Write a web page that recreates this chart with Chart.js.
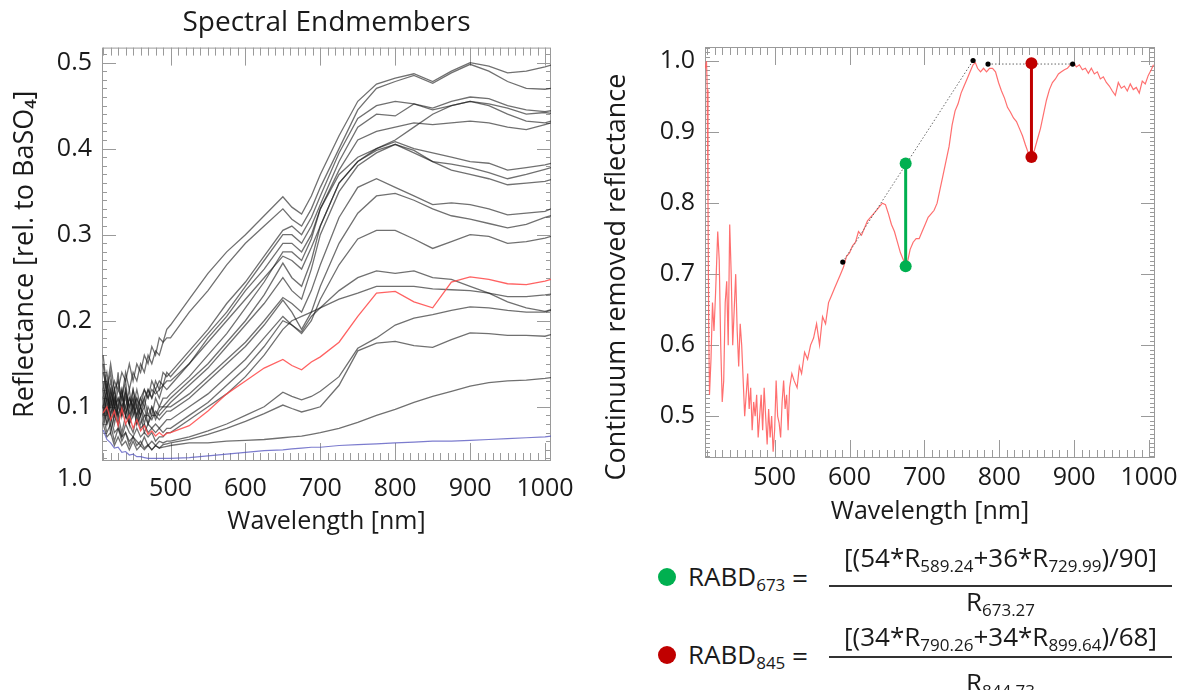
<!DOCTYPE html>
<html>
<head>
<meta charset="utf-8">
<script src="https://cdn.jsdelivr.net/npm/chart.js@4.4.0/dist/chart.umd.min.js"></script>
<style>
  body { margin: 0; background: #fff; }
  #wrap { position: relative; width: 1179px; height: 690px; overflow: hidden;
          font-family: 'Open Sans', sans-serif; color: #1a1a1a; }
  canvas { position: absolute; top: 0; }
  #leftChart { left: 0; }
  #rightChart { left: 590px; }
  .t { position: absolute; font-size: 26px; line-height: 1; white-space: nowrap; }
  .t sub { font-size: 17px; line-height: 0; vertical-align: -0.3em; }
  .c { text-align: center; }
  .dot { position: absolute; width: 18px; height: 18px; border-radius: 50%; }
  .bar { position: absolute; height: 2px; background: #333; }
</style>
</head>
<body>
<div id="wrap">
  <canvas id="leftChart" width="590" height="540"></canvas>
  <canvas id="rightChart" width="589" height="540"></canvas>

  <!-- stray label under the left y axis -->
  <div class="t" style="left:42px; top:464px; width:50px; text-align:right; font-size:25px;">1.0</div>

  <!-- RABD formulas -->
  <div class="dot" style="left:658px; top:568px; background:#00b050;"></div>
  <div class="t" style="left:688px; top:563px;">RABD<sub>673</sub></div>
  <div class="t" style="left:792px; top:563px; font-size:28px;">=</div>
  <div class="t c" style="left:829px; top:544px; width:343px;">[(54*R<sub>589.24</sub>+36*R<sub>729.99</sub>)/90]</div>
  <div class="bar" style="left:829px; top:585px; width:343px;"></div>
  <div class="t c" style="left:829px; top:588px; width:343px;">R<sub>673.27</sub></div>

  <div class="dot" style="left:658px; top:646px; background:#c00000;"></div>
  <div class="t" style="left:688px; top:641px;">RABD<sub>845</sub></div>
  <div class="t" style="left:792px; top:641px; font-size:28px;">=</div>
  <div class="t c" style="left:829px; top:623px; width:343px;">[(34*R<sub>790.26</sub>+34*R<sub>899.64</sub>)/68]</div>
  <div class="bar" style="left:829px; top:656px; width:343px;"></div>
  <div class="t c" style="left:829px; top:669px; width:343px;">R<sub>844.73</sub></div>
</div>

<script>
// ---- tick labels ----
const X_TICKS = [500, 600, 700, 800, 900, 1000];
const LEFT_Y_TICKS = [0.1, 0.2, 0.3, 0.4, 0.5];
const RIGHT_Y_TICKS = [0.5, 0.6, 0.7, 0.8, 0.9, 1.0];

// ---- Spectral endmembers (left panel) ----
const WL_L = [410,415,420,425,430,435,440,445,450,455,460,465,470,475,480,485,490,495,
              500,525,550,575,600,625,650,662,675,688,700,725,750,775,800,825,850,875,900,925,950,975,1000,1008];

const EM_T1 = [0.12,0.14,0.11,0.13,0.12,0.14,0.13,0.15,0.13,0.15,0.14,0.16,0.15,0.17,0.16,0.18,0.175,0.19,
               0.195,0.225,0.255,0.28,0.30,0.322,0.344,0.332,0.324,0.345,0.37,0.415,0.455,0.475,0.482,0.487,0.478,0.49,0.50,0.496,0.488,0.49,0.495,0.497];
const EM_T2 = [0.14,0.12,0.15,0.12,0.13,0.11,0.14,0.12,0.14,0.13,0.15,0.14,0.16,0.15,0.165,0.16,0.175,0.18,
               0.18,0.21,0.235,0.265,0.29,0.31,0.33,0.318,0.31,0.33,0.355,0.40,0.445,0.47,0.478,0.485,0.476,0.488,0.498,0.49,0.478,0.47,0.469,0.47];
const EM_U1 = [0.10,0.12,0.09,0.11,0.10,0.12,0.09,0.11,0.10,0.12,0.10,0.11,0.12,0.11,0.13,0.12,0.14,0.135,
               0.14,0.165,0.19,0.22,0.245,0.275,0.305,0.31,0.30,0.32,0.345,0.395,0.435,0.45,0.455,0.452,0.447,0.455,0.46,0.458,0.45,0.445,0.443,0.444];
const EM_U2 = [0.11,0.09,0.12,0.10,0.11,0.09,0.115,0.10,0.12,0.10,0.11,0.12,0.11,0.13,0.12,0.13,0.125,0.14,
               0.135,0.16,0.185,0.21,0.24,0.27,0.30,0.30,0.29,0.31,0.335,0.385,0.425,0.44,0.438,0.452,0.445,0.45,0.455,0.452,0.447,0.44,0.442,0.441];
const EM_U3 = [0.09,0.11,0.10,0.12,0.09,0.10,0.11,0.09,0.10,0.11,0.10,0.12,0.11,0.12,0.115,0.12,0.125,0.13,
               0.13,0.15,0.175,0.20,0.225,0.25,0.275,0.27,0.26,0.285,0.31,0.36,0.385,0.40,0.41,0.425,0.44,0.45,0.455,0.45,0.44,0.432,0.43,0.432];
const EM_U4 = [0.10,0.08,0.11,0.09,0.10,0.12,0.09,0.11,0.10,0.09,0.11,0.10,0.12,0.11,0.12,0.11,0.125,0.12,
               0.125,0.15,0.18,0.205,0.235,0.26,0.29,0.29,0.28,0.30,0.33,0.375,0.41,0.42,0.425,0.43,0.428,0.43,0.432,0.43,0.425,0.422,0.428,0.43];
const EM_W1 = [0.13,0.10,0.12,0.09,0.11,0.10,0.12,0.08,0.11,0.09,0.10,0.08,0.10,0.09,0.11,0.10,0.11,0.11,
               0.115,0.135,0.16,0.185,0.215,0.245,0.28,0.28,0.27,0.295,0.33,0.37,0.39,0.40,0.408,0.40,0.395,0.39,0.385,0.383,0.375,0.378,0.381,0.383];
const EM_W2 = [0.15,0.11,0.13,0.10,0.14,0.09,0.12,0.10,0.11,0.08,0.10,0.09,0.08,0.10,0.09,0.10,0.10,0.105,
               0.11,0.13,0.15,0.175,0.20,0.23,0.267,0.25,0.24,0.27,0.31,0.36,0.385,0.398,0.405,0.398,0.385,0.382,0.378,0.372,0.365,0.37,0.376,0.378];
const EM_W3 = [0.16,0.12,0.14,0.10,0.12,0.11,0.13,0.09,0.12,0.10,0.09,0.11,0.09,0.10,0.085,0.095,0.10,0.10,
               0.105,0.125,0.145,0.17,0.195,0.22,0.25,0.235,0.225,0.26,0.30,0.35,0.38,0.395,0.405,0.395,0.385,0.375,0.37,0.365,0.358,0.36,0.362,0.364];
const EM_X1 = [0.12,0.09,0.11,0.08,0.10,0.09,0.10,0.08,0.09,0.10,0.08,0.09,0.09,0.085,0.095,0.09,0.095,0.10,
               0.10,0.115,0.135,0.155,0.175,0.20,0.227,0.22,0.21,0.235,0.265,0.32,0.355,0.365,0.355,0.345,0.335,0.337,0.335,0.33,0.323,0.325,0.327,0.33];
const EM_X2 = [0.11,0.13,0.10,0.12,0.09,0.11,0.10,0.12,0.09,0.11,0.09,0.10,0.08,0.09,0.09,0.085,0.09,0.095,
               0.095,0.11,0.13,0.15,0.17,0.195,0.224,0.21,0.19,0.21,0.24,0.29,0.325,0.345,0.348,0.34,0.33,0.322,0.318,0.313,0.308,0.312,0.32,0.322];
const EM_Y  = [0.10,0.12,0.09,0.11,0.08,0.10,0.09,0.08,0.10,0.08,0.09,0.07,0.08,0.075,0.08,0.075,0.08,0.085,
               0.085,0.10,0.115,0.135,0.155,0.18,0.205,0.195,0.185,0.20,0.225,0.265,0.295,0.305,0.305,0.295,0.284,0.292,0.30,0.298,0.29,0.292,0.296,0.298];
const EM_Z1 = [0.09,0.11,0.08,0.10,0.09,0.07,0.09,0.08,0.07,0.09,0.075,0.08,0.07,0.075,0.07,0.075,0.07,0.075,
               0.075,0.09,0.105,0.125,0.145,0.17,0.20,0.195,0.187,0.205,0.215,0.235,0.25,0.258,0.255,0.258,0.25,0.248,0.24,0.232,0.222,0.215,0.211,0.213];
const EM_Z2 = [0.08,0.10,0.07,0.09,0.08,0.065,0.08,0.07,0.065,0.075,0.065,0.07,0.065,0.07,0.06,0.065,0.065,0.07,
               0.07,0.085,0.10,0.115,0.135,0.16,0.19,0.20,0.205,0.21,0.215,0.225,0.232,0.24,0.24,0.24,0.237,0.236,0.235,0.232,0.228,0.228,0.23,0.231];
const EM_Q1 = [0.09,0.07,0.08,0.06,0.075,0.06,0.07,0.055,0.065,0.06,0.055,0.065,0.055,0.06,0.055,0.06,0.058,0.06,
               0.06,0.065,0.072,0.08,0.09,0.10,0.117,0.112,0.108,0.112,0.118,0.135,0.168,0.18,0.195,0.203,0.207,0.212,0.216,0.215,0.212,0.21,0.21,0.212];
const EM_Q2 = [0.08,0.065,0.07,0.055,0.065,0.055,0.06,0.05,0.06,0.05,0.055,0.05,0.055,0.05,0.055,0.052,0.056,0.057,
               0.058,0.062,0.068,0.075,0.083,0.092,0.102,0.098,0.094,0.097,0.10,0.125,0.165,0.174,0.176,0.171,0.169,0.178,0.186,0.185,0.183,0.183,0.182,0.184];
const EM_LOW = [0.10,0.08,0.09,0.07,0.075,0.065,0.07,0.06,0.065,0.055,0.06,0.052,0.056,0.05,0.055,0.052,0.053,0.054,
                0.055,0.058,0.058,0.06,0.061,0.062,0.064,0.065,0.066,0.068,0.07,0.075,0.082,0.09,0.097,0.105,0.112,0.118,0.124,0.128,0.13,0.131,0.133,0.134];
// highlighted endmember (red) and the dark reference (blue)
const EM_RED = [0.093,0.10,0.085,0.095,0.078,0.098,0.08,0.09,0.075,0.085,0.072,0.078,0.068,0.072,0.066,0.07,0.066,0.069,
                0.07,0.078,0.095,0.115,0.13,0.145,0.155,0.148,0.143,0.152,0.158,0.175,0.205,0.232,0.234,0.222,0.215,0.245,0.251,0.248,0.243,0.242,0.246,0.248];
const EM_BLUE = [0.073,0.062,0.058,0.052,0.053,0.047,0.048,0.044,0.045,0.042,0.042,0.041,0.04,0.04,0.04,0.04,0.04,0.04,
                 0.04,0.041,0.043,0.045,0.047,0.049,0.05,0.051,0.052,0.053,0.053,0.055,0.056,0.057,0.058,0.059,0.06,0.06,0.061,0.062,0.063,0.064,0.065,0.066];

const BLACK_SERIES = [EM_T1, EM_T2, EM_U1, EM_U2, EM_U3, EM_U4, EM_W1, EM_W2, EM_W3,
                      EM_X1, EM_X2, EM_Y, EM_Z1, EM_Z2, EM_Q1, EM_Q2, EM_LOW];

// ---- Continuum removed spectrum (right panel) ----
const WL_R = [407.5,409,410,411,412,413,415,417,419,421,
              424,426,428,430,432,434,436,438,440,442,
              444,446,448,450,452,454,456,458,460,462,
              464,466,468,470,472,474,476,478,480,482,
              484,486,488,490,492,494,496,498,500,502,
              504,506,508,510,512,514,516,518,520,523,
              526,530,533,536,540,544,548,552,556,560,
              564,568,572,576,580,584,588,592,596,600,
              604,608,612,616,620,624,628,632,636,640,
              644,648,652,656,660,664,668,672,675,678,
              681,685,689,693,697,701,705,709,713,717,
              721,725,729,733,737,741,745,749,753,757,
              761,765,768,771,775,779,783,787,791,795,
              799,803,807,811,815,819,823,827,831,835,
              839,843,847,851,855,859,863,867,871,875,
              879,883,887,891,895,899,903,907,911,915,
              919,923,927,931,935,939,943,947,951,955,
              959,963,967,971,975,979,983,987,991,995,
              999,1003,1006];
const CR_R = [0.99,1.0,0.96,0.80,0.62,0.53,0.58,0.66,0.62,0.67,
              0.76,0.72,0.60,0.52,0.55,0.66,0.69,0.60,0.77,0.70,
              0.60,0.65,0.70,0.62,0.57,0.63,0.60,0.55,0.50,0.53,
              0.56,0.51,0.54,0.48,0.52,0.50,0.53,0.47,0.50,0.53,
              0.48,0.54,0.50,0.46,0.51,0.47,0.50,0.45,0.48,0.55,
              0.50,0.49,0.47,0.52,0.55,0.51,0.53,0.48,0.54,0.56,
              0.55,0.54,0.57,0.56,0.59,0.58,0.60,0.61,0.63,0.60,
              0.64,0.63,0.66,0.67,0.68,0.69,0.70,0.71,0.725,0.73,
              0.74,0.745,0.76,0.755,0.765,0.775,0.78,0.785,0.79,0.795,
              0.80,0.798,0.785,0.77,0.76,0.745,0.73,0.72,0.712,0.72,
              0.735,0.745,0.75,0.75,0.76,0.77,0.78,0.785,0.79,0.80,
              0.82,0.84,0.86,0.88,0.91,0.93,0.94,0.955,0.965,0.975,
              0.985,0.995,0.998,0.99,0.985,0.99,0.985,0.99,0.99,0.985,
              0.97,0.958,0.948,0.935,0.928,0.92,0.915,0.905,0.895,0.882,
              0.87,0.865,0.875,0.89,0.905,0.925,0.945,0.96,0.97,0.975,
              0.982,0.985,0.988,0.99,0.995,0.998,0.992,0.995,0.988,0.99,
              0.983,0.99,0.982,0.985,0.975,0.978,0.97,0.965,0.958,0.952,
              0.97,0.962,0.965,0.958,0.968,0.96,0.963,0.955,0.972,0.968,
              0.98,0.988,0.995];

// continuum hull (dotted) and its anchor points
const HULL1_X = [591, 765], HULL1_Y = [0.717, 1.001];
const HULL2_X = [785, 898], HULL2_Y = [0.996, 0.996];
const ANCHOR_X = [591, 765, 785, 898];
const ANCHOR_Y = [0.717, 1.001, 0.996, 0.996];

// band depth bars: RABD673 (green) and RABD845 (red)
const BAND673_X = [675, 675], BAND673_Y = [0.711, 0.856];
const BAND845_X = [843, 843], BAND845_Y = [0.865, 0.997];

const FONT = "'Open Sans', sans-serif";
const INK = '#1a1a1a';
const BOX = '#9a9a9a';

function xy(xs, ys) {
    return xs.map((x, i) => ({ x: x, y: ys[i] }));
}

// IDL style box: frame plus inward ticks on all four sides
const boxTicks = {
    id: 'boxTicks',
    beforeDatasetsDraw(chart, args, o) {
        const { ctx, chartArea: a, scales: { x, y } } = chart;
        ctx.save();
        ctx.strokeStyle = BOX;
        ctx.lineWidth = 1;
        ctx.strokeRect(a.left + 0.5, a.top + 0.5, a.right - a.left - 1, a.bottom - a.top - 1);
        ctx.beginPath();
        for (let i = Math.ceil(x.min / o.xMinor); i * o.xMinor <= x.max; i++) {
            const px = Math.round(x.getPixelForValue(i * o.xMinor)) + 0.5;
            const len = i % o.xEvery === 0 ? 18 : 8;
            ctx.moveTo(px, a.bottom); ctx.lineTo(px, a.bottom - len);
            ctx.moveTo(px, a.top); ctx.lineTo(px, a.top + len);
        }
        for (let i = Math.ceil(y.min / o.yMinor - 1e-6); i * o.yMinor <= y.max + 1e-9; i++) {
            const py = Math.round(y.getPixelForValue(i * o.yMinor)) + 0.5;
            const len = i % o.yEvery === 0 ? 14 : 5;
            ctx.moveTo(a.left, py); ctx.lineTo(a.left + len, py);
            ctx.moveTo(a.right, py); ctx.lineTo(a.right - len, py);
        }
        ctx.stroke();
        ctx.restore();
    }
};

function xAxis(min, max, height, tickPad, titlePad) {
    return {
        type: 'linear', min: min, max: max,
        grid: { display: false, drawTicks: false },
        border: { display: false },
        ticks: { autoSkip: false, padding: tickPad, color: INK, maxRotation: 0,
                 font: { family: FONT, size: 25 },
                 callback: v => String(v) },
        afterBuildTicks(scale) { scale.ticks = X_TICKS.map(v => ({ value: v })); },
        title: { display: true, text: 'Wavelength [nm]', color: INK,
                 font: { family: FONT, size: 25 }, padding: { top: 0, bottom: titlePad } },
        afterFit(scale) { scale.height = height; scale.paddingLeft = 0; scale.paddingRight = 0; }
    };
}

function yAxis(min, max, width, tickList, text, titlePad) {
    return {
        type: 'linear', min: min, max: max,
        grid: { display: false, drawTicks: false },
        border: { display: false },
        ticks: { autoSkip: false, padding: 10, color: INK,
                 font: { family: FONT, size: 25 },
                 callback: v => v.toFixed(1) },
        afterBuildTicks(scale) { scale.ticks = tickList.map(v => ({ value: v })); },
        title: { display: true, text: text, color: INK,
                 font: { family: FONT, size: 27 }, padding: { top: titlePad, bottom: 0 } },
        afterFit(scale) { scale.width = width; scale.paddingTop = 0; scale.paddingBottom = 0; }
    };
}

function lineSet(data, color, width, order) {
    return { data: data, borderColor: color, borderWidth: width, pointRadius: 0,
             tension: 0, fill: false, order: order };
}

// left panel
const leftSets = BLACK_SERIES.map(s => lineSet(xy(WL_L, s), 'rgba(25,25,25,0.62)', 1.3, 2));
leftSets.push(lineSet(xy(WL_L, EM_BLUE), 'rgba(80,80,190,0.75)', 1.2, 1));
leftSets.push(lineSet(xy(WL_L, EM_RED), 'rgba(255,70,70,0.85)', 1.3, 0));

new Chart(document.getElementById('leftChart'), {
    type: 'line',
    data: { datasets: leftSets },
    options: {
        responsive: false,
        animation: false,
        layout: { padding: { left: 0, right: 39, top: 0, bottom: 0 } },
        scales: {
            x: xAxis(408.5, 1008, 79, 13, 3),
            y: yAxis(0.037, 0.5174, 102, LEFT_Y_TICKS, 'Reflectance [rel. to BaSO\u2084]', 9)
        },
        plugins: {
            legend: { display: false },
            tooltip: { enabled: false },
            title: { display: true, text: 'Spectral Endmembers', fullSize: false, color: INK,
                     font: { family: FONT, size: 28, weight: 'normal' },
                     padding: { top: 6, bottom: 8 } },
            boxTicks: { xMinor: 10, xEvery: 10, yMinor: 0.01, yEvery: 10 }
        }
    },
    plugins: [boxTicks]
});

// right panel; the trailing spaces push the rotated title down like in the figure
const rightSets = [
    lineSet(xy(WL_R, CR_R), 'rgba(255,95,95,0.9)', 1.2, 4),
    Object.assign(lineSet(xy(HULL1_X, HULL1_Y), '#666', 1, 3), { borderDash: [1.5, 2] }),
    Object.assign(lineSet(xy(HULL2_X, HULL2_Y), '#666', 1, 3), { borderDash: [1.5, 2] }),
    { data: xy(ANCHOR_X, ANCHOR_Y), showLine: false, pointRadius: 2.6, pointBorderWidth: 0,
      pointBackgroundColor: '#000', order: 2 },
    { data: xy(BAND673_X, BAND673_Y), borderColor: '#00b050', borderWidth: 3, pointRadius: 6,
      pointBorderWidth: 0, pointBackgroundColor: '#00b050', order: 0 },
    { data: xy(BAND845_X, BAND845_Y), borderColor: '#c00000', borderWidth: 3, pointRadius: 6,
      pointBorderWidth: 0, pointBackgroundColor: '#c00000', order: 0 }
];

new Chart(document.getElementById('rightChart'), {
    type: 'line',
    data: { datasets: rightSets },
    options: {
        responsive: false,
        animation: false,
        layout: { padding: { left: 0, right: 24, top: 47, bottom: 0 } },
        scales: {
            x: xAxis(407, 1008, 82, 5, 13),
            y: yAxis(0.441, 1.02, 115, RIGHT_Y_TICKS,
                     'Continuum removed reflectance' + '\u00a0'.repeat(7), 11)
        },
        plugins: {
            legend: { display: false },
            tooltip: { enabled: false },
            boxTicks: { xMinor: 10, xEvery: 10, yMinor: 0.1 / 16, yEvery: 16 }
        }
    },
    plugins: [boxTicks]
});
</script>
</body>
</html>
